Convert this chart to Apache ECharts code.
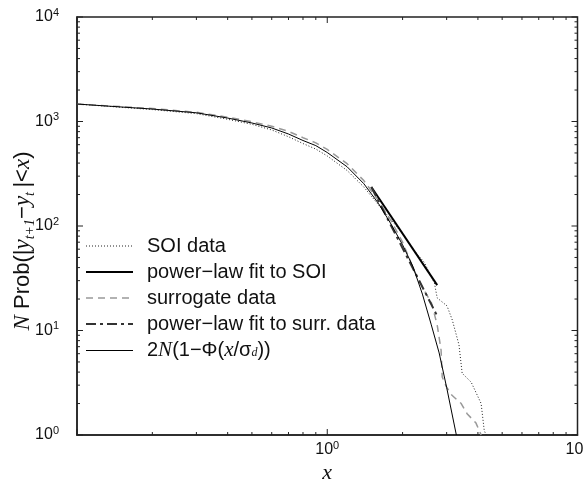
<!DOCTYPE html>
<html>
<head>
<meta charset="utf-8">
<script src="https://cdn.jsdelivr.net/npm/echarts@6/dist/echarts.min.js"></script>
<style>
  html, body { margin: 0; padding: 0; background: #fff; }
  #myChart { width: 584px; height: 485px; }
</style>
</head>
<body>
<div id="myChart"></div>
<script>
// SOI data (dotted)
const soiX = [0.1, 0.2, 0.3, 0.4, 0.5, 0.6, 0.7, 0.8, 0.9, 1.0, 1.2, 1.4, 1.6, 1.8, 2.0, 2.2, 2.44, 2.68, 2.75, 3.01, 3.16, 3.36, 3.46, 3.76, 4.12, 4.24, 4.32];
const soiY = [1469, 1300, 1190, 1050, 940, 830, 715, 615, 545, 468, 340, 236, 160, 115, 84, 60, 45, 28.5, 20.5, 17.2, 12.6, 7.3, 3.9, 3.2, 2, 1.1, 1];
// power-law fit to SOI
const fitSoiX = [1.5, 2.75];
const fitSoiY = [236, 27.2];
// surrogate data (dashed)
const surX = [0.1, 0.2, 0.3, 0.4, 0.5, 0.6, 0.7, 0.8, 0.9, 1.0, 1.2, 1.4, 1.6, 1.8, 2.0, 2.23, 2.4, 2.61, 2.75, 2.85, 2.88, 2.99, 3.15, 3.43, 3.62, 3.93, 4.12];
const surY = [1469, 1330, 1225, 1100, 995, 900, 805, 700, 625, 540, 395, 272, 176, 112, 70, 37, 26, 18.3, 11.3, 6.5, 3.6, 2.9, 2.4, 2.0, 1.6, 1.3, 1];
// power-law fit to surrogate
const fitSurX = [1.5, 2.75];
const fitSurY = [236, 13.8];
// 2N(1-Phi(x/sigma_d))
const gaussX = [0.1, 0.15, 0.2, 0.3, 0.4, 0.5, 0.6, 0.7, 0.8, 0.9, 1.0, 1.2, 1.4, 1.6, 1.8, 2.0, 2.2, 2.4, 2.6, 2.8, 3.0, 3.28];
const gaussY = [1469, 1377, 1316, 1211, 1079, 968, 867, 759, 658, 588, 505, 369, 254, 165, 104, 66, 41, 22.3, 11.5, 6.1, 2.85, 1];

// ticks
const majorX = [0.1, 1, 10];
const minorX = [0.2, 0.3, 0.4, 0.5, 0.6, 0.7, 0.8, 0.9, 2, 3, 4, 5, 6, 7, 8, 9];
const majorY = [1, 10, 100, 1000, 10000];
const minorY = [2, 3, 4, 5, 6, 7, 8, 9, 20, 30, 40, 50, 60, 70, 80, 90,
  200, 300, 400, 500, 600, 700, 800, 900, 2000, 3000, 4000, 5000, 6000, 7000, 8000, 9000];

const xMin = 0.1, xMax = 10, yMin = 1, yMax = 10000;

const gaussName = '2N(1−Φ(x/σd))';
const names = ['SOI data', 'power−law fit to SOI', 'surrogate data', 'power−law fit to surr. data', gaussName];

const pairs = (xs, ys) => xs.map((x, i) => [x, ys[i]]);

const sans = 'Arial, "Liberation Sans", Helvetica, sans-serif';
const serif = '"Liberation Serif", "Times New Roman", serif';
const axisColor = '#222';

// line looks, in legend order
const looks = [
  { color: '#222', width: 1, type: [1, 2] },
  { color: '#000', width: 2, type: 'solid' },
  { color: '#999', width: 1.5, type: [7, 5] },
  { color: '#333', width: 2, type: [10, 4, 3, 4] },
  { color: '#000', width: 1, type: 'solid' }
];

// one row per tick mark: [x, y, onYAxis, length, direction]
const tickRows = [];
majorX.forEach(v => { tickRows.push([v, yMin, 0, 6, 1], [v, yMax, 0, 6, -1]); });
minorX.forEach(v => { tickRows.push([v, yMin, 0, 3, 1], [v, yMax, 0, 3, -1]); });
majorY.forEach(v => { tickRows.push([xMin, v, 1, 6, 1], [xMax, v, 1, 6, -1]); });
minorY.forEach(v => { tickRows.push([xMin, v, 1, 3, 1], [xMax, v, 1, 3, -1]); });

const tickRich = {
  b: { fontFamily: sans, fontSize: 16, color: '#111', lineHeight: 20 },
  s: { fontFamily: sans, fontSize: 11, color: '#111', lineHeight: 10, verticalAlign: 'top' }
};
function powLabel(v) {
  return '{b|10}{s|' + Math.round(Math.log10(v)) + '}';
}

function renderTick(params, api) {
  const p = api.coord([api.value(0), api.value(1)]);
  const len = api.value(3) * api.value(4);
  const shape = api.value(2)
    ? { x1: p[0], y1: p[1], x2: p[0] + len, y2: p[1] }
    : { x1: p[0], y1: p[1], x2: p[0], y2: p[1] - len };
  return { type: 'line', shape: shape, style: { stroke: axisColor, lineWidth: 1 } };
}

function lineSeries(i, xs, ys) {
  return { name: names[i], type: 'line', symbol: 'none', data: pairs(xs, ys), color: looks[i].color,
    lineStyle: Object.assign({}, looks[i]) };
}

const myChart = echarts.init(document.getElementById('myChart'), null, { renderer: 'canvas' });

myChart.setOption({
  animation: false,
  backgroundColor: '#fff',
  grid: { left: 77, right: 6.5, top: 17, bottom: 50, outerBoundsMode: 'none', containLabel: false,
    show: true, borderColor: axisColor, borderWidth: 1.5, backgroundColor: 'transparent' },
  xAxis: {
    type: 'log', logBase: 10, min: xMin, max: xMax, position: 'bottom',
    splitLine: { show: false },
    axisLine: { show: true, lineStyle: { color: axisColor, width: 1.5 } },
    axisTick: { show: false },
    axisLabel: { show: true, showMinLabel: false, margin: 5, formatter: powLabel, rich: tickRich },
    name: '{xi|x}', nameLocation: 'middle', nameGap: 27, nameMoveOverlap: false,
    nameTextStyle: { fontFamily: serif, fontSize: 22,
      rich: { xi: { fontFamily: serif, fontStyle: 'italic', fontSize: 22, color: '#111' } } }
  },
  yAxis: {
    type: 'log', logBase: 10, min: yMin, max: yMax, position: 'left',
    splitLine: { show: false },
    axisLine: { show: true, lineStyle: { color: axisColor, width: 1.5 } },
    axisTick: { show: false },
    axisLabel: { show: true, margin: 18, formatter: powLabel, rich: tickRich },
    name: '{it|N}{rm| Prob(|}{it|y}{sb|t+1}{rm|−}{it|y}{sb|t}{rm|\u2009|<}{it|x}{rm|)}',
    nameLocation: 'middle', nameGap: 40, nameMoveOverlap: false,
    nameTextStyle: {
      fontFamily: sans, fontSize: 22, color: '#111',
      padding: [0, 30, 0, 0],
      rich: {
        rm: { fontFamily: sans, fontSize: 22, color: '#111', lineHeight: 28 },
        it: { fontFamily: serif, fontStyle: 'italic', fontSize: 23, color: '#111', lineHeight: 28 },
        sb: { fontFamily: serif, fontStyle: 'italic', fontSize: 14, color: '#111', lineHeight: 16, verticalAlign: 'bottom' }
      }
    }
  },
  legend: {
    orient: 'vertical', left: 85, top: 236, padding: 0,
    itemWidth: 47, itemHeight: 16, itemGap: 6,
    data: names.map((n, i) => ({ name: n, lineStyle: Object.assign({}, looks[i]) })),
    itemStyle: { opacity: 0, color: 'rgba(0,0,0,0)', borderWidth: 0 },
    formatter: function (name) {
      if (name === gaussName) {
        return '{rm|2}{it|N}{rm|(1−Φ(}{it|x}{rm|/σ}{sb|d}{rm|))}';
      }
      return '{rm|' + name + '}';
    },
    textStyle: {
      fontFamily: sans, fontSize: 20, color: '#111',
      padding: [0, 0, 0, 9],
      rich: {
        rm: { fontFamily: sans, fontSize: 20, color: '#111', lineHeight: 16 },
        it: { fontFamily: serif, fontStyle: 'italic', fontSize: 21, color: '#111', lineHeight: 16 },
        sb: { fontFamily: serif, fontStyle: 'italic', fontSize: 12, color: '#111', lineHeight: 10, verticalAlign: 'bottom' }
      }
    }
  },
  series: [
    lineSeries(0, soiX, soiY),
    lineSeries(1, fitSoiX, fitSoiY),
    lineSeries(2, surX, surY),
    lineSeries(3, fitSurX, fitSurY),
    lineSeries(4, gaussX, gaussY),
    { type: 'custom', data: tickRows, encode: { x: 0, y: 1 }, renderItem: renderTick, z: 5 }
  ]
});
</script>
</body>
</html>
